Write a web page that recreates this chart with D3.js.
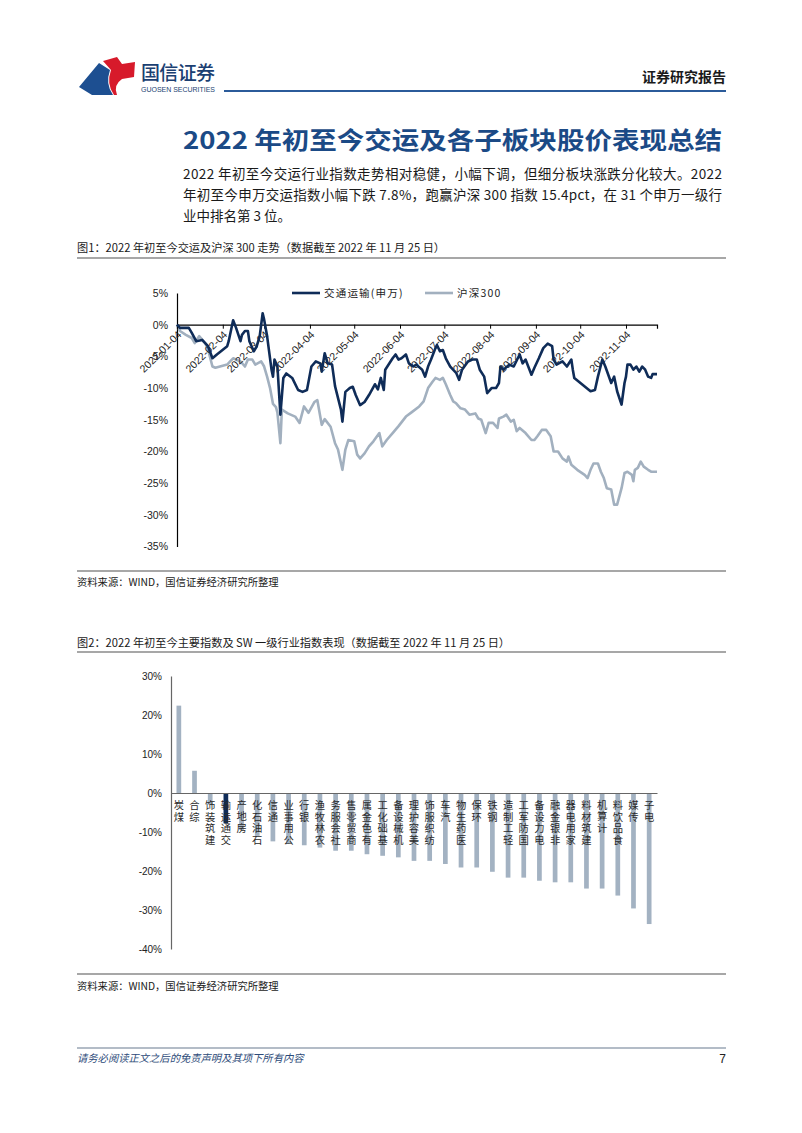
<!DOCTYPE html>
<html><head><meta charset="utf-8">
<script src="https://cdn.jsdelivr.net/npm/d3@7"></script>
<style>
body{margin:0;background:#fff;}
svg{display:block;}
.vlab{writing-mode:vertical-rl;text-orientation:upright;}
</style></head><body>
<svg id="c" width="802" height="1133"></svg>
<script>
// ---------- Chart 1 data (cumulative return since 2022-01-04, %) ----------
const seriesNames = ["交通运输(申万)", "沪深300"];
const xTickDates = ["2022-01-04","2022-02-04","2022-03-04","2022-04-04","2022-05-04","2022-06-04","2022-07-04","2022-08-04","2022-09-04","2022-10-04","2022-11-04"];
const yTicks1 = [5,0,-5,-10,-15,-20,-25,-30,-35];

const jtysDates = [
 "01-04","01-06","01-12","01-14","01-17","01-21","01-25","01-28","01-31",
 "02-07","02-08","02-11","02-13","02-16","02-17","02-19","02-21","02-22","02-25","02-27",
 "03-01","03-03","03-04","03-06","03-09","03-10","03-11","03-13","03-15","03-17","03-19","03-23","03-27","03-30",
 "04-02","04-05","04-08","04-11","04-12","04-14","04-16","04-19","04-21","04-25","04-26","04-28",
 "05-01","05-03","05-05","05-08","05-11","05-14","05-18","05-20","05-22","05-24","05-25","05-30",
 "06-01","06-03","06-05","06-08","06-10","06-13","06-15","06-19","06-21","06-23","06-25","06-28","06-29",
 "07-01","07-03","07-05","07-08","07-12","07-14","07-16","07-20","07-23","07-26","07-28","07-31",
 "08-02","08-05","08-08","08-10","08-11","08-13","08-17","08-20","08-24","08-26","08-28",
 "09-01","09-03","09-06","09-09","09-12","09-15","09-16","09-18","09-22","09-25","09-28","09-29","09-30",
 "10-11","10-14","10-16","10-19","10-21","10-25","10-27","10-29",
 "11-01","11-03","11-04","11-05","11-07","11-09","11-11","11-13","11-15","11-17","11-19","11-21","11-22","11-25"];
const jtysValues = [
 0.0,-0.5,-0.5,-1.3,-2.6,-2.4,-3.4,-5.3,-4.7,
 -3.4,-2.6,0.7,-0.5,-2.6,-1.6,-1.0,-1.0,-2.6,-4.2,-3.4,
 -1.8,1.8,0.8,-1.8,-7.1,-8.2,-5.5,-6.6,-14.2,-8.4,-7.7,-8.4,-10.3,-10.6,
 -10.3,-6.6,-5.8,-6.1,-7.4,-4.5,-6.1,-6.3,-9.7,-13.4,-15.3,-10.6,
 -10.0,-9.8,-11.1,-12.7,-12.2,-11.1,-9.4,-10.2,-8.4,-10.3,-7.1,-5.3,
 -4.7,-5.5,-5.3,-4.7,-6.1,-6.6,-6.3,-7.1,-8.2,-6.6,-5.5,-3.7,-3.2,
 -4.2,-4.0,-5.3,-6.6,-7.6,-8.7,-7.1,-5.8,-5.5,-5.5,-7.1,-8.2,
 -10.8,-10.0,-10.0,-9.2,-6.6,-7.1,-6.3,-6.6,-4.7,-6.1,-5.5,
 -7.9,-6.8,-5.3,-3.7,-3.0,-3.4,-5.5,-6.3,-5.8,-6.6,-5.5,-7.1,-8.4,
 -10.5,-10.3,-8.2,-5.5,-6.6,-9.2,-8.2,-10.5,
 -12.6,-9.2,-8.2,-6.3,-6.3,-7.1,-6.6,-7.4,-6.6,-7.1,-8.2,-8.4,-7.8,-7.8];

const hs300Dates = [
 "01-04","01-06","01-10","01-14","01-16","01-19","01-23","01-25","01-28","01-30",
 "02-07","02-09","02-11","02-13","02-16","02-19","02-21","02-24","02-26",
 "03-02","03-04","03-06","03-08","03-10","03-12","03-13","03-15","03-16","03-20","03-25","03-28","03-31",
 "04-03","04-07","04-09","04-12","04-14","04-18","04-21","04-23","04-26","04-28","04-30",
 "05-04","05-06","05-08","05-11","05-14","05-17","05-21","05-23","05-26","05-30",
 "06-03","06-08","06-12","06-17","06-20","06-23","06-26","06-28",
 "07-01","07-03","07-05","07-08","07-10","07-12","07-15","07-18","07-21","07-25","07-27","07-29",
 "08-01","08-03","08-06","08-09","08-10","08-13","08-15","08-18","08-20","08-22","08-24","08-28",
 "09-01","09-03","09-05","09-08","09-11","09-14","09-16","09-19","09-22","09-25","09-26","09-28",
 "10-02","10-07","10-09","10-11","10-13","10-16","10-18","10-20","10-22","10-25","10-27","10-29",
 "11-01","11-03","11-05","11-08","11-09","11-10","11-12","11-14","11-16","11-19","11-21","11-25"];
const hs300Values = [
 0.0,-1.0,-1.6,-2.1,-2.9,-1.8,-2.9,-3.9,-6.6,-6.8,
 -6.3,-5.8,-5.3,-5.5,-5.8,-6.6,-5.5,-5.5,-6.3,
 -5.8,-6.6,-8.2,-10.0,-12.5,-13.0,-13.9,-18.7,-13.4,-14.0,-14.5,-15.5,-12.9,
 -13.9,-12.2,-11.9,-15.8,-14.9,-16.1,-18.7,-19.7,-22.9,-19.7,-18.2,
 -18.4,-20.5,-21.1,-20.3,-19.2,-18.4,-17.1,-19.2,-18.2,-17.1,
 -16.0,-14.5,-13.8,-12.9,-12.1,-10.0,-9.0,-8.4,
 -8.7,-8.4,-9.4,-11.1,-12.1,-12.4,-13.2,-13.4,-14.2,-14.0,-14.8,-15.0,
 -17.1,-15.5,-15.5,-16.3,-14.8,-14.5,-14.2,-15.3,-15.0,-16.8,-16.3,-17.1,
 -18.2,-18.2,-17.6,-16.6,-16.6,-17.6,-20.0,-20.0,-21.1,-21.6,-20.8,-22.1,
 -22.9,-23.7,-24.2,-22.9,-21.9,-21.9,-23.2,-24.2,-25.8,-26.0,-28.4,-28.4,
 -25.8,-23.4,-23.2,-23.7,-24.7,-22.9,-22.6,-21.6,-22.4,-22.9,-23.2,-23.2];

// ---------- Chart 2 data (2022 YTD return, %) ----------
const industries = ["煤炭","综合","建筑装饰","交通运输","房地产","石油石化","通信","公用事业","银行","农林牧渔","社会服务","商贸零售","有色金属","基础化工","机械设备","美容护理","纺织服饰","汽车","医药生物","环保","钢铁","轻工制造","国防军工","电力设备","非银金融","家用电器","建筑材料","计算机","食品饮料","传媒","电子"];
const industryReturns = [22.4,5.7,-3.0,-7.8,-9.5,-11.0,-12.4,-13.0,-13.4,-14.0,-14.8,-14.8,-15.7,-16.1,-16.5,-17.4,-17.4,-18.2,-19.1,-19.1,-20.2,-21.7,-21.7,-22.5,-22.9,-22.9,-24.5,-24.5,-26.3,-29.6,-33.6];
const yTicks2 = [30,20,10,0,-10,-20,-30,-40];
const highlight = "交通运输";

// ---------- styling ----------
const NAVY = "#0f2c58", GREY = "#a2b0bf";
const CJK = "'Noto Sans CJK SC','Noto Sans',sans-serif";
const LAT = "'Liberation Sans',Arial,sans-serif";

const svg = d3.select("#c");

// ---------- Header ----------
const hdr = svg.append("g");
hdr.append("path").attr("d","M79,87 L99,63 L110,70 Q105,84 113,95 L92,95 Z").attr("fill","#1d4f91");
hdr.append("path").attr("d","M103,61 L117,57 L122,64 L135,62 L134,77 L122,79 Q113,85 117,95 L114,95 Q106,84 111,70 Z").attr("fill","#d71a2b");
hdr.append("text").attr("x",141).attr("y",80).attr("font-family",CJK).attr("font-size",19).attr("font-weight",500).attr("fill","#1b3f72").attr("textLength",74).text("国信证券");
hdr.append("text").attr("x",141).attr("y",92).attr("font-family",LAT).attr("font-size",7).attr("fill","#1b3f72").attr("textLength",74).text("GUOSEN SECURITIES");
hdr.append("text").attr("x",726).attr("y",82).attr("text-anchor","end").attr("font-family",CJK).attr("font-size",14).attr("font-weight",700).attr("fill","#1a1a1a").text("证券研究报告");
hdr.append("line").attr("x1",224).attr("x2",726).attr("y1",91).attr("y2",91).attr("stroke","#2b5b9a").attr("stroke-width",2);

// ---------- Title and paragraph ----------
svg.append("text").attr("x",183).attr("y",149).attr("font-family",CJK).attr("font-size",24).attr("font-weight",700).attr("fill","#1b4a86").attr("textLength",539).attr("lengthAdjust","spacingAndGlyphs").text("2022 年初至今交运及各子板块股价表现总结");
const para = ["2022 年初至今交运行业指数走势相对稳健，小幅下调，但细分板块涨跌分化较大。2022",
              "年初至今申万交运指数小幅下跌 7.8%，跑赢沪深 300 指数 15.4pct，在 31 个申万一级行",
              "业中排名第 3 位。"];
para.forEach((t,i)=>{
  const tx = svg.append("text").attr("x",183).attr("y",179+i*21).attr("font-family",CJK).attr("font-size",13.5).attr("fill","#1a1a1a").text(t);
  if(i<2) tx.attr("textLength",539).attr("lengthAdjust","spacing");
});

// ---------- captions / rules ----------
function caption(y, t, fs){
  svg.append("text").attr("x",77).attr("y",y).attr("font-family",CJK).attr("font-size",fs||11.2).attr("fill","#1a1a1a").text(t);
}
function rule(y, col, w){
  svg.append("line").attr("x1",77).attr("x2",726).attr("y1",y).attr("y2",y).attr("stroke",col||"#8a8a8a").attr("stroke-width",w||1.3);
}
caption(252,"图1：2022 年初至今交运及沪深 300 走势（数据截至 2022 年 11 月 25 日）");
rule(258);
rule(571);
caption(586,"资料来源：WIND，国信证券经济研究所整理",10.3);
caption(647,"图2：2022 年初至今主要指数及 SW 一级行业指数表现（数据截至 2022 年 11 月 25 日）");
rule(652);
rule(974);
caption(990,"资料来源：WIND，国信证券经济研究所整理",10.3);

// ---------- Chart 1 ----------
const parse = d3.timeParse("%Y-%m-%d");
const x1 = d3.scaleTime().domain([parse("2022-01-04"), parse("2022-11-25")]).range([177,657]);
const y1 = d3.scaleLinear().domain([-35,5]).range([546.5,293]);
const g1 = svg.append("g");

const ya1 = g1.append("g").attr("transform","translate(177,0)")
  .call(d3.axisLeft(y1).tickValues(yTicks1).tickSize(0).tickPadding(9).tickFormat(d=>d+"%"));
ya1.select(".domain").attr("stroke","#000").attr("stroke-width",1.2);
ya1.selectAll("text").attr("font-family",LAT).attr("font-size",10.5).attr("fill","#222");

const mk = (dates, vals) => dates.map((d,i)=>({date:parse("2022-"+d), v:vals[i]}));
const line1 = d3.line().x(d=>x1(d.date)).y(d=>y1(d.v));
g1.append("path").datum(mk(hs300Dates,hs300Values)).attr("d",line1).attr("fill","none").attr("stroke",GREY).attr("stroke-width",2.6).attr("stroke-linejoin","round");

const xa1 = g1.append("g").attr("transform",`translate(0,${y1(0)})`)
  .call(d3.axisBottom(x1).tickValues(xTickDates.map(parse)).tickSize(4).tickFormat(d3.timeFormat("%Y-%m-%d")));
xa1.select(".domain").attr("stroke","#000").attr("stroke-width",1.2);
xa1.selectAll(".tick line").attr("stroke","#000");
xa1.selectAll("text").attr("font-family",LAT).attr("font-size",10.5).attr("fill","#222")
  .attr("text-anchor","end").attr("x",0).attr("y",0).attr("dy","0.35em")
  .attr("transform","translate(2,8) rotate(-45)");

g1.append("path").datum(mk(jtysDates,jtysValues)).attr("d",line1).attr("fill","none").attr("stroke",NAVY).attr("stroke-width",2.6).attr("stroke-linejoin","round");

const leg = g1.append("g");
[[292,NAVY,seriesNames[0]],[425,GREY,seriesNames[1]]].forEach(([lx,c,t])=>{
  leg.append("line").attr("x1",lx).attr("x2",lx+28).attr("y1",293).attr("y2",293).attr("stroke",c).attr("stroke-width",2.6);
  leg.append("text").attr("x",lx+32).attr("y",297).attr("font-family",CJK).attr("font-size",10.5).attr("letter-spacing",1.2).attr("fill","#222").text(t);
});

// ---------- Chart 2 ----------
const x2 = d3.scaleBand().domain(industries).range([171,657]).paddingInner(0.7).paddingOuter(0.35);
const y2 = d3.scaleLinear().domain([-40,30]).range([949,676]);
const g2 = svg.append("g");
g2.selectAll("rect.bar").data(industries).join("rect").attr("class","bar")
  .attr("x",d=>x2(d)).attr("width",x2.bandwidth())
  .attr("y",(d,i)=>y2(Math.max(0,industryReturns[i])))
  .attr("height",(d,i)=>Math.abs(y2(industryReturns[i])-y2(0)))
  .attr("fill",d=>d===highlight?NAVY:"#a3b2c2");

const ya2 = g2.append("g").attr("transform","translate(171,0)")
  .call(d3.axisLeft(y2).tickValues(yTicks2).tickSize(0).tickPadding(9).tickFormat(d=>d+"%"));
ya2.select(".domain").attr("stroke","#666").attr("stroke-width",1.2);
ya2.selectAll("text").attr("font-family",LAT).attr("font-size",10).attr("fill","#222");

const xa2 = g2.append("g").attr("transform",`translate(0,${y2(0)})`)
  .call(d3.axisBottom(x2).tickSize(0).tickFormat(""));
xa2.select(".domain").attr("stroke","#666").attr("stroke-width",1.2);

// vertical category labels: upright characters, reading upward from the bottom
const lab = g2.append("g");
industries.forEach(name=>{
  const cx = x2(name)+x2.bandwidth()/2;
  const chars = Array.from(name);
  const t = lab.append("text").attr("class","vlab").attr("font-family",CJK)
    .attr("font-size",10.3).attr("fill","#2a2a2a");
  chars.forEach((ch,k)=>{
    const pos = chars.length-1-k;   // 0 = top slot, just under the zero line
    t.append("tspan").attr("x",cx).attr("y",y2(0)+7+pos*11.7).text(ch);
  });
});

// ---------- Footer ----------
svg.append("line").attr("x1",77).attr("x2",726).attr("y1",1048).attr("y2",1048).attr("stroke","#9aa6b4").attr("stroke-width",1.5);
svg.append("text").attr("x",77).attr("y",1062).attr("font-family",CJK).attr("font-size",10.3).attr("font-style","italic").attr("fill","#2c4a78").text("请务必阅读正文之后的免责声明及其项下所有内容");
svg.append("text").attr("x",726).attr("y",1063).attr("text-anchor","end").attr("font-family",LAT).attr("font-size",12).attr("fill","#222").text("7");
</script>
</body></html>
